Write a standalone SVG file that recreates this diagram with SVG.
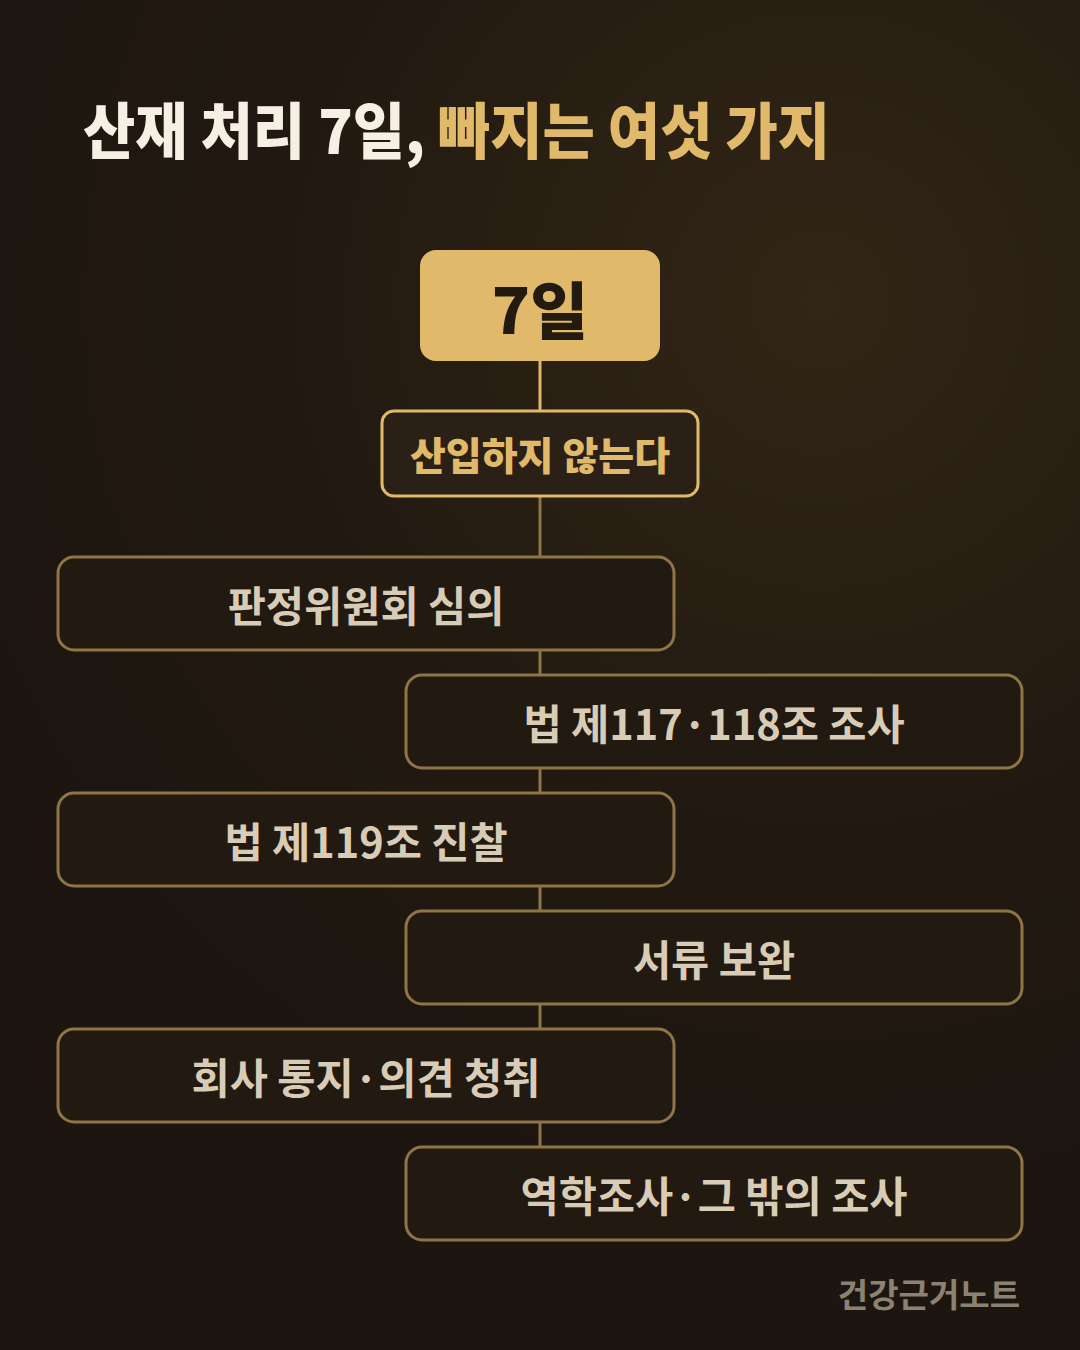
<svg xmlns="http://www.w3.org/2000/svg" width="1080" height="1350" viewBox="0 0 1080 1350">
<defs>
<radialGradient id="bg" cx="820" cy="300" r="900" gradientUnits="userSpaceOnUse">
<stop offset="0" stop-color="#322615"/>
<stop offset="0.6" stop-color="#211911"/>
<stop offset="1" stop-color="#1d1610"/>
</radialGradient>
<style>
.k{font-family:"Noto Sans CJK KR","Noto Sans CJK SC",sans-serif;}
.title{font-size:61px;font-weight:900;}
.box{fill:#221a11;stroke:#8f7446;stroke-width:3;}
.lbl{font-size:41.5px;font-weight:700;fill:#d9ccb6;text-anchor:middle;}
.conn{stroke:#8f7446;stroke-width:3;fill:none;}
</style>
</defs>
<rect width="1080" height="1350" fill="url(#bg)"/>
<g id="title">
<text class="k title" x="83" y="154" textLength="747" lengthAdjust="spacingAndGlyphs"><tspan fill="#f5efe4">산재 처리 7일, </tspan><tspan fill="#e0b96a">빠지는 여섯 가지</tspan></text>
</g>
<g id="connectors">
<line x1="540" y1="360" x2="540" y2="412" stroke="#e0b96a" stroke-width="3"/>
<line class="conn" x1="540" y1="496" x2="540" y2="558"/>
<line class="conn" x1="540" y1="650" x2="540" y2="676"/>
<line class="conn" x1="540" y1="768" x2="540" y2="794"/>
<line class="conn" x1="540" y1="886" x2="540" y2="912"/>
<line class="conn" x1="540" y1="1004" x2="540" y2="1030"/>
<line class="conn" x1="540" y1="1122" x2="540" y2="1148"/>
</g>
<g id="node-7days">
<rect x="420" y="250" width="240" height="111" rx="16" fill="#e0b96a"/>
<text class="k" x="540" y="334" font-size="63" font-weight="900" fill="#231a10" text-anchor="middle">7일</text>
</g>
<g id="node-exclude">
<rect x="382" y="411" width="316" height="85" rx="12" fill="#2a2015" stroke="#e0b96a" stroke-width="3"/>
<text class="k" x="540" y="470" font-size="39" font-weight="900" fill="#e0b96a" text-anchor="middle">산입하지 않는다</text>
</g>
<g id="node-1">
<rect class="box" x="58" y="557" width="616" height="93" rx="16"/>
<text class="k lbl" x="366" y="622">판정위원회 심의</text>
</g>
<g id="node-2">
<rect class="box" x="406" y="675" width="616" height="93" rx="16"/>
<text class="k lbl" x="714" y="740">법 제117·118조 조사</text>
</g>
<g id="node-3">
<rect class="box" x="58" y="793" width="616" height="93" rx="16"/>
<text class="k lbl" x="366" y="858">법 제119조 진찰</text>
</g>
<g id="node-4">
<rect class="box" x="406" y="911" width="616" height="93" rx="16"/>
<text class="k lbl" x="714" y="976">서류 보완</text>
</g>
<g id="node-5">
<rect class="box" x="58" y="1029" width="616" height="93" rx="16"/>
<text class="k lbl" x="366" y="1094">회사 통지·의견 청취</text>
</g>
<g id="node-6">
<rect class="box" x="406" y="1147" width="616" height="93" rx="16"/>
<text class="k lbl" x="714" y="1212">역학조사·그 밖의 조사</text>
</g>
<g id="footer">
<text class="k" x="1020" y="1307" font-size="33" font-weight="700" fill="#8c8272" text-anchor="end">건강근거노트</text>
</g>
</svg>
